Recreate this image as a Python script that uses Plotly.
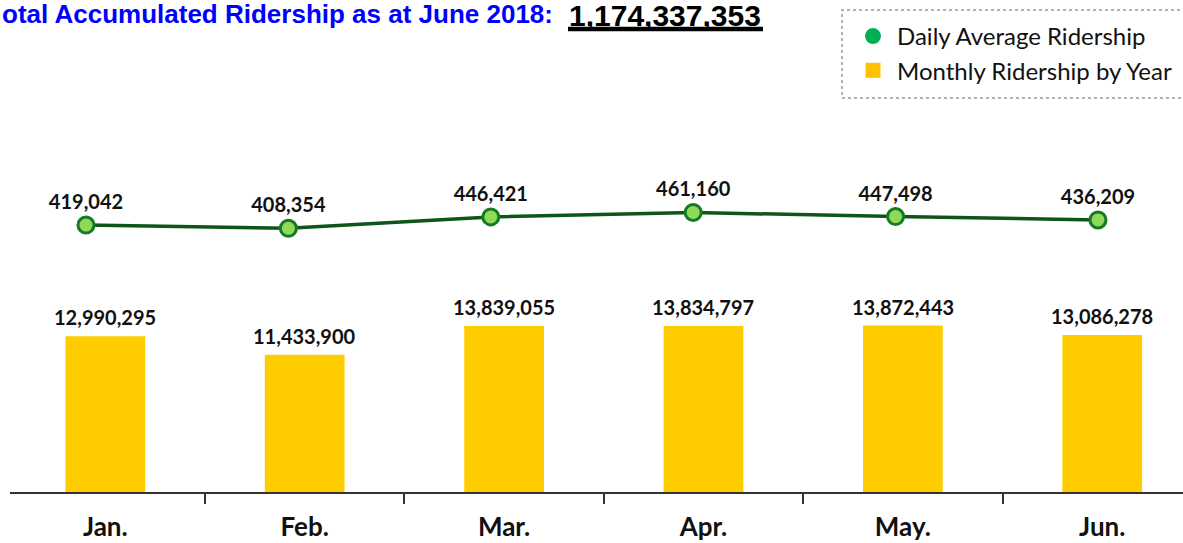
import plotly.graph_objects as go

# ---- data ----
months = ["Jan.", "Feb.", "Mar.", "Apr.", "May.", "Jun."]
monthly_ridership = [12990295, 11433900, 13839055, 13834797, 13872443, 13086278]
daily_average = [419042, 408354, 446421, 461160, 447498, 436209]
total_accumulated = 1174337353
title_text = "otal Accumulated Ridership as at June 2018:"
legend_names = ["Daily Average Ridership", "Monthly Ridership by Year"]

# ---- layout geometry (pixels) ----
W, H = 1183, 543
ML, MR, MT, MB = 10, 0, 100, 51
PW, PH = W - ML - MR, H - MT - MB


def px(x):
    return (x - ML) / PW


def py(y):
    return (H - MB - y) / PH


LABEL_FONT = dict(family="Lato", size=20, color="#111111", weight="bold")

fig = go.Figure()

fig.add_trace(go.Bar(
    x=months, y=monthly_ridership, width=0.4,
    marker=dict(color="#FFCC00", line=dict(width=0)),
    showlegend=False, hoverinfo="skip",
))

fig.add_trace(go.Scatter(
    x=months, y=daily_average, xaxis="x2", yaxis="y2",
    mode="lines+markers+text",
    line=dict(color="#0E5518", width=3.5),
    marker=dict(size=16, color="#8EDB5A", line=dict(color="#157A22", width=3)),
    text=[f"{v:,}" for v in daily_average],
    textposition="top center",
    textfont=LABEL_FONT,
    cliponaxis=False, showlegend=False, hoverinfo="skip",
))

# legend entries
fig.add_trace(go.Scatter(
    x=[None], y=[None], mode="markers", name=legend_names[0],
    marker=dict(symbol="circle", size=16, color="#00B050"), legendgroup="a",
))
fig.add_trace(go.Scatter(
    x=[None], y=[None], mode="markers", name=legend_names[1],
    marker=dict(symbol="square", size=15, color="#FFC000"), legendgroup="b",
))

# value labels above bars
bar_labels = [
    dict(x=m, y=v, xref="x", yref="y", text=f"{v:,}", showarrow=False,
         xanchor="center", yanchor="bottom", yshift=5, font=LABEL_FONT)
    for m, v in zip(months, monthly_ridership)
]

fig.update_layout(
    width=W, height=H,
    margin=dict(l=ML, r=MR, t=MT, b=MB, pad=0),
    paper_bgcolor="white", plot_bgcolor="white",
    template="none",
    showlegend=True,
    legend=dict(
        x=px(849), y=py(14), xanchor="left", yanchor="top",
        font=dict(family="Lato", size=24, color="#111111"),
        bgcolor="rgba(0,0,0,0)", borderwidth=0,
        traceorder="normal", tracegroupgap=4, itemwidth=38,
    ),
    xaxis=dict(
        type="category", range=[-0.478, 5.405],
        showline=True, linecolor="#333333", linewidth=1.5,
        ticks="outside", tickson="boundaries", ticklen=10, tickwidth=1.5,
        tickcolor="#333333", ticklabelstandoff=11,
        tickfont=dict(family="Lato", size=26, color="#111111", weight="bold"),
        showgrid=False, zeroline=False, fixedrange=True,
    ),
    xaxis2=dict(
        type="category", overlaying="x", range=[-0.3755, 5.42],
        visible=False, fixedrange=True,
    ),
    yaxis=dict(range=[0, 32.67e6], visible=False, fixedrange=True),
    yaxis2=dict(range=[-470646, 836021], overlaying="y", visible=False,
                fixedrange=True),
    annotations=bar_labels + [
        dict(text=title_text, xref="paper", yref="paper",
             x=px(0), y=py(14), xanchor="left", yanchor="middle",
             showarrow=False,
             font=dict(family="Liberation Sans", size=26, color="#0000FF",
                       weight="bold")),
        dict(text=f"{total_accumulated:,}", xref="paper", yref="paper",
             x=px(567), y=py(15), xanchor="left", yanchor="middle",
             showarrow=False,
             font=dict(family="Liberation Sans", size=30, color="#000000",
                       weight="bold")),
    ],
    shapes=[
        dict(type="rect", xref="paper", yref="paper",
             x0=px(842), x1=px(1192), y0=py(98), y1=py(10),
             line=dict(color="#999999", width=1.5, dash="dot"),
             fillcolor="rgba(0,0,0,0)"),
        dict(type="line", xref="paper", yref="paper",
             x0=px(568), x1=px(763), y0=py(29), y1=py(29),
             line=dict(color="#000000", width=4.3)),
    ],
)

fig.write_html("out.html", config={"displayModeBar": False},
               post_script="document.body.style.margin='0';")
